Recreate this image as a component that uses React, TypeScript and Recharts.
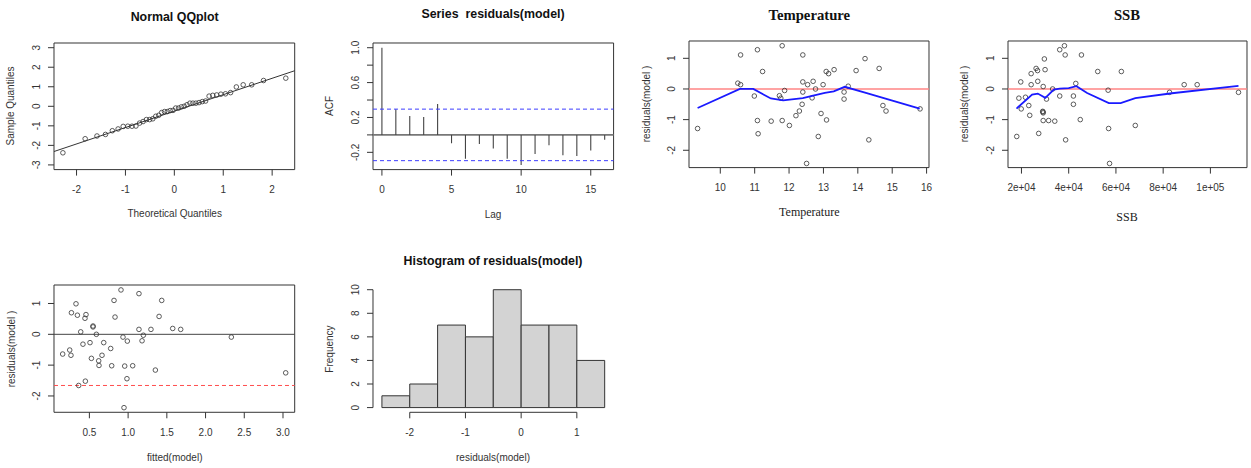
import React from 'react';
import { ScatterChart, Scatter, XAxis, YAxis, ReferenceLine, ReferenceArea } from 'recharts';

// ---- data ----
const qqTheoretical = [
  -2.279, -1.824, -1.582, -1.408, -1.268, -1.15, -1.046, -0.952, -0.866, -0.786, -0.711,
  -0.639, -0.571, -0.505, -0.441, -0.38, -0.319, -0.259, -0.201, -0.143, -0.086, -0.028,
  0.028, 0.086, 0.143, 0.201, 0.259, 0.319, 0.38, 0.441, 0.505, 0.571, 0.639,
  0.711, 0.786, 0.866, 0.952, 1.046, 1.15, 1.268, 1.408, 1.582, 1.824, 2.279,
];
const qqLineX = [-2.461, 2.461];
const qqLineY = [-2.315, 1.821];

const fittedValues = [
  0.908, 1.14, 0.327, 0.818, 1.434, 0.268, 0.345, 0.456, 0.443, 0.831, 1.4,
  0.547, 0.547, 0.388, 0.59, 1.14, 1.295, 1.576, 1.197, 1.18, 0.934, 0.99,
  0.417, 0.508, 0.685, 0.775, 0.155, 0.246, 0.262, 0.663, 0.526, 0.62, 0.624,
  0.788, 0.956, 1.059, 1.352, 0.985, 0.448, 0.362, 0.947, 1.679, 2.333, 3.035,
];
const fittedResiduals = [
  1.44, 1.32, 0.99, 1.1, 1.1, 0.7, 0.62, 0.64, 0.52, 0.56, 0.58,
  0.27, 0.24, 0.08, 0.0, 0.16, 0.16, 0.19, -0.03, -0.21, -0.09, -0.22,
  -0.32, -0.27, -0.27, -0.46, -0.64, -0.51, -0.68, -0.68, -0.78, -0.86, -1.01,
  -1.02, -1.03, -1.02, -1.16, -1.44, -1.52, -1.66, -2.38, 0.16, -0.09, -1.25,
];
const fittedDashedLevel = -1.66;

const acfLags = [0, 1, 2, 3, 4, 5, 6, 7, 8, 9, 10, 11, 12, 13, 14, 15, 16];
const acfValues = [
  1.0, 0.294, 0.218, 0.206, 0.355, -0.096, -0.275, -0.103, -0.157,
  -0.275, -0.344, -0.218, -0.118, -0.233, -0.241, -0.18, -0.057,
];
const acfBound = 0.2955;

const tempValues = [
  9.34, 10.59, 11.08, 11.8, 12.4, 11.23, 10.51, 10.59, 12.4, 12.54, 10.99,
  11.87, 12.4, 11.72, 11.76, 12.38, 12.3, 12.2, 11.08, 11.48, 11.8, 12.01,
  11.1, 12.51, 14.21, 14.62, 13.95, 13.31, 13.08, 13.15, 12.7, 12.99, 12.77,
  13.72, 13.6, 12.67, 13.6, 14.73, 14.82, 12.93, 13.09, 12.85, 14.32, 15.81,
];
const tempResiduals = [
  -1.29, 1.11, 1.28, 1.41, 1.11, 0.57, 0.19, 0.14, 0.23, 0.14, -0.23,
  -0.05, -0.1, -0.22, -0.3, -0.5, -0.72, -0.87, -1.03, -1.05, -1.03, -1.19,
  -1.46, -2.43, 0.99, 0.67, 0.6, 0.63, 0.57, 0.5, 0.25, 0.14, 0.0,
  0.09, -0.1, -0.29, -0.33, -0.54, -0.72, -0.8, -1.01, -1.55, -1.66, -0.65,
];
const tempSmoothX = [9.34, 10.57, 10.96, 11.47, 11.83, 12.4, 12.7, 13.04, 13.3, 13.62, 14.21, 15.8];
const tempSmoothY = [-0.62, 0.0, 0.0, -0.31, -0.37, -0.3, -0.22, -0.13, -0.08, 0.07, -0.12, -0.64];

const ssbValues = [
  38200, 36200, 38500, 45400, 29700, 26200, 26800, 30000, 24100, 52300, 19700,
  26900, 24100, 29200, 43000, 33200, 18900, 21700, 30600, 36200, 42000, 42000,
  19900, 23100, 23500, 29000, 29200, 29100, 29200, 31500, 34100, 44900, 18000,
  27300, 38700, 56700, 56900, 57300, 62300, 68200, 82700, 88900, 94400, 111900,
];
const ssbResiduals = [
  1.41, 1.28, 1.11, 1.11, 0.98, 0.67, 0.6, 0.63, 0.5, 0.57, 0.23,
  0.25, 0.14, 0.08, 0.18, 0.0, -0.3, -0.27, -0.33, -0.23, -0.23, -0.5,
  -0.65, -0.54, -0.86, -0.73, -0.78, -0.75, -1.03, -1.03, -1.05, -1.0, -1.55,
  -1.45, -1.66, -0.04, -1.29, -2.43, 0.57, -1.19, -0.11, 0.14, 0.14, -0.11,
];
const ssbSmoothX = [17900, 24500, 26900, 30100, 33700, 36200, 40000, 43300, 47800, 57000, 62000, 68200, 83700, 111900];
const ssbSmoothY = [-0.64, -0.18, -0.15, -0.29, -0.02, 0.01, 0.03, 0.09, -0.13, -0.46, -0.46, -0.3, -0.14, 0.1];

const histBreaks = [-2.5, -2, -1.5, -1, -0.5, 0, 0.5, 1, 1.5];
const histCounts = [1, 2, 7, 6, 10, 7, 7, 4];

const qqXTicks = [-2, -1, 0, 1, 2];
const qqYTicks = [-3, -2, -1, 0, 1, 2, 3];
const acfXTicks = [0, 5, 10, 15];
const acfYTicks = [-0.2, 0, 0.2, 0.4, 0.6, 0.8, 1.0];
const acfYLabels = [-0.2, 0.2, 0.6, 1.0];
const tempXTicks = [10, 11, 12, 13, 14, 15, 16];
const residYTicks = [-2, -1, 0, 1];
const ssbXTicks = [20000, 40000, 60000, 80000, 100000];
const ssbXLabels = ['2e+04', '4e+04', '6e+04', '8e+04', '1e+05'];
const fittedXTicks = [0.5, 1.0, 1.5, 2.0, 2.5, 3.0];
const histXTicks = [-2, -1, 0, 1];
const histYTicks = [0, 2, 4, 6, 8, 10];

// ---- drawing helpers ----
const SANS = '"Liberation Sans", Arial, Helvetica, sans-serif';
const SERIF = '"Liberation Serif", "Times New Roman", serif';
const INK = '#333';

const toPoints = (xs: number[], ys: number[]) => xs.map((x, i) => ({ x, y: ys[i] }));

const circle = (p: any) => (
  <circle cx={p.cx} cy={p.cy} r={2.3} fill="none" stroke="#333" strokeWidth={0.8} />
);
const noShape = () => <g />;

function XTick(props: any) {
  const { x, y, payload, fmt } = props;
  return (
    <text x={x} y={y + 12} textAnchor="middle" dominantBaseline="central" fontSize={10} fill={INK} fontFamily={SANS}>
      {fmt ? fmt(payload.value) : String(payload.value)}
    </text>
  );
}

function YTick(props: any) {
  const { x, y, payload, fmt, labels } = props;
  const v = payload.value;
  if (labels && !labels.some((l: number) => Math.abs(l - v) < 1e-9)) return null;
  const cx = x - 9.5;
  return (
    <text x={cx} y={y} transform={`rotate(-90 ${cx} ${y})`} textAnchor="middle" dominantBaseline="central" fontSize={10} fill={INK} fontFamily={SANS}>
      {fmt ? fmt(v) : String(v)}
    </text>
  );
}

type PanelProps = {
  box: [number, number, number, number];
  xDomain: [number, number];
  yDomain: [number, number];
  xTicks: number[];
  yTicks: number[];
  xFmt?: (v: number) => string;
  yFmt?: (v: number) => string;
  yLabels?: number[];
  framed?: boolean;
  children?: React.ReactNode;
};

function Panel({ box, xDomain, yDomain, xTicks, yTicks, xFmt, yFmt, yLabels, framed = true, children }: PanelProps) {
  const [x0, x1, y0, y1] = box;
  const L = 50, T = 10, R = 12, B = 45, YW = 40, XH = 30;
  const W = x1 - x0 + L + R;
  const H = y1 - y0 + T + B;
  return (
    <div style={{ position: 'absolute', left: x0 - L, top: y0 - T, width: W, height: H }}>
      <ScatterChart width={W} height={H} margin={{ top: T, right: R, bottom: B - XH, left: L - YW }}>
        <XAxis
          type="number" dataKey="x" domain={xDomain} ticks={xTicks} allowDataOverflow interval={0}
          height={XH} axisLine={false} tickSize={6} tickLine={{ stroke: INK }}
          tick={(p: any) => <XTick {...p} fmt={xFmt} />}
        />
        <YAxis
          type="number" dataKey="y" domain={yDomain} ticks={yTicks} allowDataOverflow interval={0}
          width={YW} axisLine={false} tickSize={6} tickLine={{ stroke: INK }}
          tick={(p: any) => <YTick {...p} fmt={yFmt} labels={yLabels} />}
        />
        {children}
        {framed && (
          <ReferenceArea
            x1={xDomain[0]} x2={xDomain[1]} y1={yDomain[0]} y2={yDomain[1]}
            fill="none" fillOpacity={0} stroke={INK} strokeWidth={1} ifOverflow="visible"
          />
        )}
      </ScatterChart>
    </div>
  );
}

function Txt({ x, y, children, size = 10, bold = false, serif = false, rotate = false, color = INK }: any) {
  return (
    <div
      style={{
        position: 'absolute', left: x, top: y, whiteSpace: 'pre', lineHeight: 1,
        transform: `translate(-50%, -50%)${rotate ? ' rotate(-90deg)' : ''}`,
        fontSize: size, fontWeight: bold ? 'bold' : 'normal', fontFamily: serif ? SERIF : SANS, color,
      }}
    >
      {children}
    </div>
  );
}

export default function App() {
  const qqSample = [...fittedResiduals].sort((a, b) => a - b);
  const qqPoints = toPoints(qqTheoretical, qqSample);
  const fittedPoints = toPoints(fittedValues, fittedResiduals);
  const tempPoints = toPoints(tempValues, tempResiduals);
  const tempSmooth = toPoints(tempSmoothX, tempSmoothY);
  const ssbPoints = toPoints(ssbValues, ssbResiduals);
  const ssbSmooth = toPoints(ssbSmoothX, ssbSmoothY);

  return (
    <div style={{ position: 'absolute', left: 0, top: 0, width: 1251, height: 468, background: '#fff', overflow: 'hidden' }}>
      {/* Normal QQ plot */}
      <Panel box={[54.3, 295, 42.7, 169.3]} xDomain={[-2.461, 2.461]} yDomain={[-3.24, 3.24]} xTicks={qqXTicks} yTicks={qqYTicks}>
        <ReferenceLine
          segment={[{ x: qqLineX[0], y: qqLineY[0] }, { x: qqLineX[1], y: qqLineY[1] }]}
          stroke={INK} strokeWidth={1} ifOverflow="visible"
        />
        <Scatter data={qqPoints} shape={circle} isAnimationActive={false} />
      </Panel>
      <Txt x={174.7} y={17} size={12.4} bold color="#111">Normal QQplot</Txt>
      <Txt x={174.7} y={213.5}>Theoretical Quantiles</Txt>
      <Txt x={10.8} y={106} rotate>Sample Quantiles</Txt>

      {/* ACF */}
      <Panel
        box={[372.7, 613.3, 42.7, 169.3]} xDomain={[-0.64, 16.64]} yDomain={[-0.398, 1.054]}
        xTicks={acfXTicks} yTicks={acfYTicks} yLabels={acfYLabels} yFmt={(v) => v.toFixed(1)}
      >
        <ReferenceLine y={0} stroke="#777" strokeWidth={1.6} />
        {acfLags.map((lag, i) => (
          <ReferenceLine
            key={lag}
            segment={[{ x: lag, y: 0 }, { x: lag, y: acfValues[i] }]}
            stroke="#444" strokeWidth={1.1}
          />
        ))}
        <ReferenceLine y={acfBound} stroke="#3b3bff" strokeDasharray="4 3" strokeWidth={1} />
        <ReferenceLine y={-acfBound} stroke="#3b3bff" strokeDasharray="4 3" strokeWidth={1} />
      </Panel>
      <Txt x={493} y={14} size={12.4} bold color="#111">Series  residuals(model)</Txt>
      <Txt x={493} y={215}>Lag</Txt>
      <Txt x={330} y={106} rotate>ACF</Txt>

      {/* Temperature */}
      <Panel box={[689.3, 929.3, 40.7, 167.3]} xDomain={[9.09, 16.07]} yDomain={[-2.565, 1.565]} xTicks={tempXTicks} yTicks={residYTicks}>
        <ReferenceLine y={0} stroke="#ff8585" strokeWidth={1.6} />
        <Scatter data={tempPoints} shape={circle} isAnimationActive={false} />
        <Scatter data={tempSmooth} shape={noShape} line={{ stroke: '#1a1aff', strokeWidth: 1.8 }} lineType="joint" isAnimationActive={false} />
      </Panel>
      <Txt x={809.3} y={15} size={14.7} bold serif color="#111">Temperature</Txt>
      <Txt x={809.3} y={211.5} size={12} serif color="#222">Temperature</Txt>
      <Txt x={646.7} y={104} rotate>residuals(model )</Txt>

      {/* SSB */}
      <Panel
        box={[1007.7, 1246.7, 40.7, 167.3]} xDomain={[14300, 115500]} yDomain={[-2.565, 1.565]}
        xTicks={ssbXTicks} yTicks={residYTicks} xFmt={(v) => ssbXLabels[ssbXTicks.indexOf(v)]}
      >
        <ReferenceLine y={0} stroke="#ff8585" strokeWidth={1.6} />
        <Scatter data={ssbPoints} shape={circle} isAnimationActive={false} />
        <Scatter data={ssbSmooth} shape={noShape} line={{ stroke: '#1a1aff', strokeWidth: 1.8 }} lineType="joint" isAnimationActive={false} />
      </Panel>
      <Txt x={1127} y={14.5} size={14.7} bold serif color="#111">SSB</Txt>
      <Txt x={1127} y={217} size={12} serif color="#222">SSB</Txt>
      <Txt x={965} y={104} rotate>residuals(model )</Txt>

      {/* residuals vs fitted */}
      <Panel
        box={[54.3, 295, 285, 412.3]} xDomain={[0.043, 3.151]} yDomain={[-2.53, 1.6]}
        xTicks={fittedXTicks} yTicks={residYTicks} xFmt={(v) => v.toFixed(1)}
      >
        <ReferenceLine y={0} stroke="#444" strokeWidth={1} />
        <ReferenceLine y={fittedDashedLevel} stroke="#ff4d4d" strokeDasharray="4 3" strokeWidth={1} />
        <Scatter data={fittedPoints} shape={circle} isAnimationActive={false} />
      </Panel>
      <Txt x={174.7} y={458.3}>fitted(model)</Txt>
      <Txt x={11.7} y={348.7} rotate>residuals(model )</Txt>

      {/* histogram */}
      <Panel
        box={[372.7, 613.3, 285, 412.3]} xDomain={[-2.66, 1.66]} yDomain={[-0.4, 10.4]}
        xTicks={histXTicks} yTicks={histYTicks} framed={false}
      >
        {histCounts.map((c, i) => (
          <ReferenceArea
            key={i} x1={histBreaks[i]} x2={histBreaks[i + 1]} y1={0} y2={c}
            fill="#d3d3d3" fillOpacity={1} stroke={INK} strokeWidth={1}
          />
        ))}
        <ReferenceLine
          segment={[{ x: histXTicks[0], y: -0.4 }, { x: histXTicks[histXTicks.length - 1], y: -0.4 }]}
          stroke={INK} strokeWidth={1} ifOverflow="visible"
        />
        <ReferenceLine
          segment={[{ x: -2.66, y: histYTicks[0] }, { x: -2.66, y: histYTicks[histYTicks.length - 1] }]}
          stroke={INK} strokeWidth={1} ifOverflow="visible"
        />
      </Panel>
      <Txt x={493} y={260.7} size={12.4} bold color="#111">Histogram of residuals(model)</Txt>
      <Txt x={493} y={458.3}>residuals(model)</Txt>
      <Txt x={330} y={348.7} rotate>Frequency</Txt>
    </div>
  );
}
